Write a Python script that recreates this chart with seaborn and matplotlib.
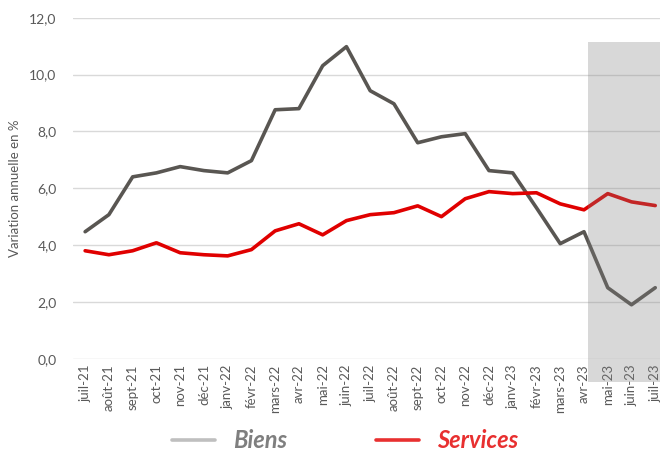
#!/usr/bin/env python3

# Imports:
import matplotlib

matplotlib.use("Agg")
import matplotlib.pyplot as plt
import pandas as pd
import seaborn as sns
from matplotlib.lines import Line2D
from matplotlib.patches import Rectangle
from matplotlib.ticker import FuncFormatter

months = [
    "juil-21", "août-21", "sept-21", "oct-21", "nov-21", "déc-21",
    "janv-22", "févr-22", "mars-22", "avr-22", "mai-22", "juin-22",
    "juil-22", "août-22", "sept-22", "oct-22", "nov-22", "déc-22",
    "janv-23", "févr-23", "mars-23", "avr-23", "mai-23", "juin-23",
    "juil-23",
]
biens = [
    4.47, 5.07, 6.40, 6.54, 6.76, 6.62, 6.54, 6.97, 8.76, 8.80, 10.31,
    10.98, 9.43, 8.97, 7.60, 7.81, 7.92, 6.62, 6.54, 5.31, 4.05, 4.47,
    2.50, 1.90, 2.50,
]
services = [
    3.80, 3.66, 3.80, 4.08, 3.73, 3.66, 3.62, 3.84, 4.50, 4.75, 4.36,
    4.86, 5.07, 5.14, 5.38, 5.00, 5.63, 5.88, 5.81, 5.84, 5.45, 5.24,
    5.81, 5.52, 5.39,
]
shade_from = "mai-23"

GREY = "#595652"
RED = "#e00000"
TXT = "#595959"

df = pd.DataFrame({"mois": months, "Biens": biens, "Services": services})
df["pos"] = range(len(months))

sns.set_style("white")
plt.rcParams["font.family"] = ["Lato", "DejaVu Sans"]

fig = plt.figure(figsize=(6.6, 4.53), dpi=100)
ax = fig.add_axes([0.111, 0.208, 0.889, 0.753])

sns.lineplot(data=df, x="pos", y="Biens", color=GREY, linewidth=2.6, ax=ax)
sns.lineplot(data=df, x="pos", y="Services", color=RED, linewidth=2.6, ax=ax)

# shaded forecast zone
start = months.index(shade_from) - 0.82
ax.add_patch(
    Rectangle(
        (start, -0.8), len(months) + 1 - start, 11.95,
        facecolor="#808080", alpha=0.3, edgecolor="none",
        clip_on=False, zorder=5,
    )
)

ax.set_xlim(-0.5, 24.2)
ax.set_ylim(0, 12)
ax.set_yticks(range(0, 13, 2))
ax.yaxis.set_major_formatter(FuncFormatter(lambda v, p: f"{v:.1f}".replace(".", ",")))
ax.set_xticks(df["pos"])
ax.set_xticklabels(months, rotation=90, fontsize=9.5, color=TXT)
ax.tick_params(axis="y", labelsize=10, colors=TXT, length=0, pad=12)
ax.tick_params(axis="x", length=0, pad=4)
ax.grid(axis="y", color="#d9d9d9", linewidth=1)
ax.set_axisbelow(True)
for s in ax.spines.values():
    s.set_visible(False)
ax.set_xlabel("")
ax.set_ylabel("Variation annuelle en %", fontsize=9.5, color=TXT, labelpad=6)

handles = [
    Line2D([], [], color="#bfbfbf", linewidth=2.6),
    Line2D([], [], color="#e83030", linewidth=2.6),
]
leg = fig.legend(
    handles, ["Biens", "Services"], loc="center", bbox_to_anchor=(0.523, 0.028),
    ncol=2, frameon=False, handlelength=1.8, handletextpad=0.75,
    columnspacing=3.8, borderpad=0,
    prop={"size": 17, "weight": "bold", "style": "italic"},
)
for t, c in zip(leg.get_texts(), ["#7f7f7f", "#e83030"]):
    t.set_color(c)

fig.savefig("out.png", dpi=100)
